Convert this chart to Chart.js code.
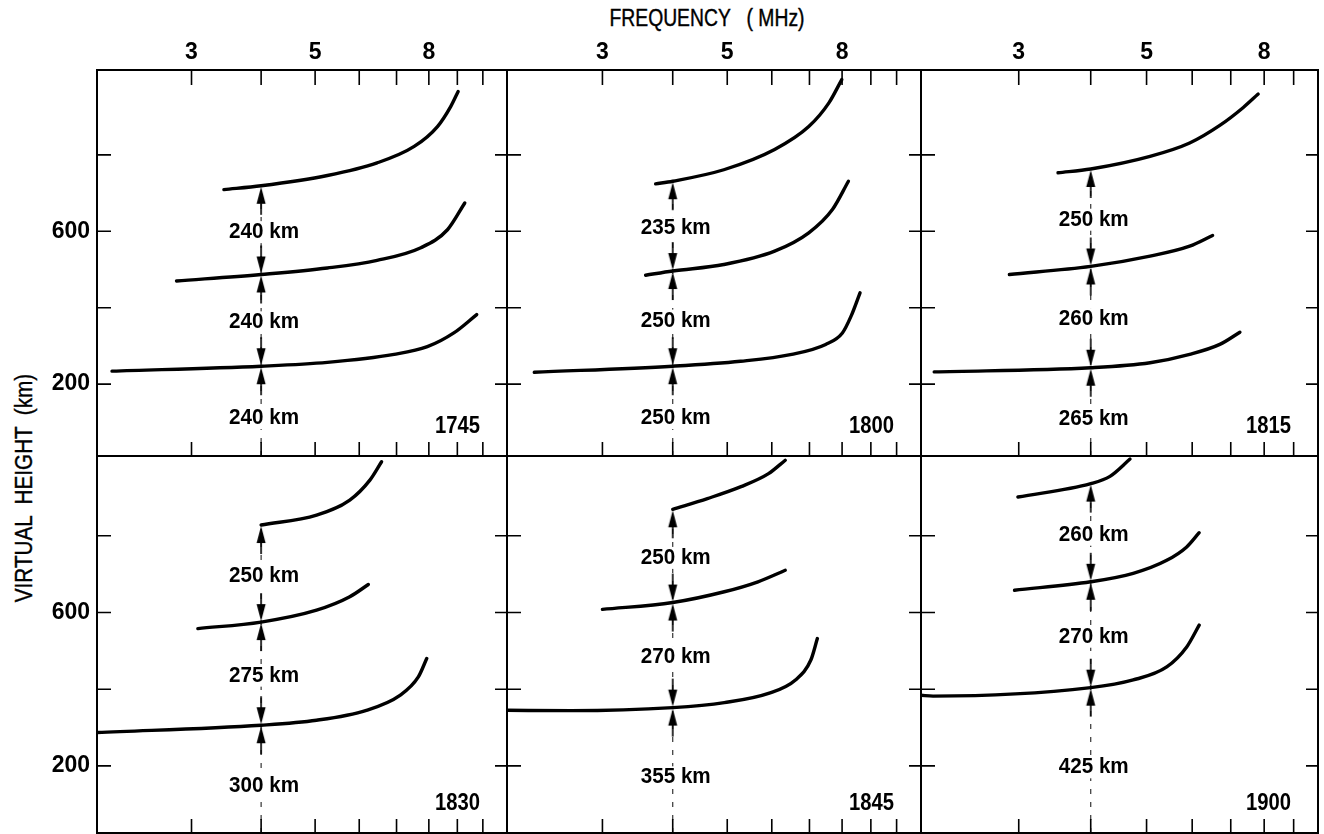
<!DOCTYPE html>
<html>
<head>
<meta charset="utf-8">
<script src="https://cdn.jsdelivr.net/npm/chart.js@4.4.1/dist/chart.umd.min.js"></script>
<style>
    html, body { margin: 0; padding: 0; background: #fff; }
    #figura { position: relative; width: 1324px; height: 834px; overflow: hidden; }
    #figura canvas { position: absolute; left: 0; top: 0; }
    .titulo {
        position: absolute;
        font-family: 'Liberation Sans', Arial, sans-serif;
        font-size: 23px;
        color: #000;
        white-space: pre;
        -webkit-text-stroke: 0.4px #000;
    }
    #tituloX { left: 707px; top: 18px; transform: translate(-50%, -50%) scaleX(0.84); }
    #tituloY { left: 24px; top: 488px; transform: translate(-50%, -50%) rotate(-90deg) scaleX(0.9); }
</style>
</head>
<body>
<div id="figura">
    <div class="titulo" id="tituloX">FREQUENCY   ( MHz)</div>
    <div class="titulo" id="tituloY">VIRTUAL  HEIGHT  (km)</div>
</div>

<script>
const tempos = ['1745', '1800', '1815', '1830', '1845', '1900'];
const freqTicks = [3, 4, 5, 6, 7, 8, 9, 10];
const freqRotulos = [3, 5, 8];
const alturaTicks = [200, 400, 600, 800];
const alturaRotulos = [200, 600];
const freqSondagem = 4;

// traços [MHz, km], de baixo para cima
const baixo1745 = [[2.16, 234], [4, 247], [5.26, 257], [6.93, 278], [7.95, 298], [8.87, 334], [9.75, 382]];
const meio1745  = [[2.82, 470], [4, 487], [5.26, 504], [6.46, 524], [7.74, 557], [8.64, 604], [9.28, 674]];
const alto1745  = [[3.43, 709], [4, 719], [5.26, 746], [6.46, 779], [7.53, 822], [8.29, 874], [8.76, 927], [9.03, 966]];
const distancias1745 = ['240 km', '240 km', '240 km'];

const baixo1800 = [[2.27, 231], [4, 247], [5.28, 260], [6.51, 278], [7.48, 304], [8.01, 334], [8.30, 378], [8.61, 439]];
const meio1800  = [[3.58, 485], [4, 496], [4.93, 513], [6.07, 548], [6.98, 596], [7.69, 657], [8.21, 731]];
const alto1800  = [[3.73, 724], [4, 731], [4.93, 761], [6.07, 814], [6.98, 874], [7.58, 936], [7.99, 997]];
const distancias1800 = ['250 km', '250 km', '235 km'];

const baixo1815 = [[2.14, 232], [4, 243], [5.07, 256], [5.94, 278], [6.70, 304], [7.26, 336]];
const meio1815  = [[2.89, 487], [4, 508], [5.07, 535], [5.94, 561], [6.51, 589]];
const alto1815  = [[3.51, 753], [4, 763], [5.07, 796], [5.94, 831], [6.70, 877], [7.36, 924], [7.81, 959]];
const distancias1815 = ['265 km', '260 km', '250 km'];

const baixo1830 = [[2.03, 287], [4, 306], [5.03, 319], [6.18, 345], [7.10, 384], [7.66, 432], [7.93, 480]];
const meio1830  = [[3.08, 558], [4, 575], [5.03, 606], [5.77, 641], [6.23, 673]];
const alto1830  = [[4, 828], [5.03, 854], [5.77, 893], [6.27, 945], [6.58, 993]];
const distancias1830 = ['300 km', '275 km', '250 km'];

const baixo1845 = [[2.03, 345], [2.64, 344], [4, 352], [4.94, 365], [5.92, 389], [6.61, 424], [7.04, 476], [7.23, 532]];
const meio1845  = [[3.0, 608], [4, 626], [4.94, 654], [5.67, 680], [6.34, 710]];
const alto1845  = [[4, 869], [4.61, 897], [5.29, 928], [5.92, 962], [6.34, 997]];
const distancias1845 = ['355 km', '270 km', '250 km'];

const baixo1900 = [[2.03, 384], [2.13, 382], [4, 404], [4.74, 424], [5.42, 458], [5.87, 510], [6.17, 567]];
const meio1900  = [[2.95, 658], [4, 680], [4.74, 702], [5.42, 736], [5.87, 771], [6.17, 808]];
const alto1900  = [[2.99, 901], [4, 936], [4.32, 955], [4.68, 1000]];
const distancias1900 = ['425 km', '270 km', '260 km'];

// --- geometria dos painéis ---
const colunasPx = [[97, 507], [507, 921], [921, 1318]];
const linhasPx = [[70, 456], [456, 833]];
const freqMin = 2.03;
const freqMax = [11.05, 11.05, 9.92];
const alturaMin = [12, 25];
const alturaMax = [1022, 1008];

const FONTE = "'Liberation Sans', Arial, sans-serif";
Chart.defaults.font.family = FONTE;
Chart.defaults.font.size = 23;
Chart.defaults.font.weight = 'bold';
Chart.defaults.color = '#000';

window.onload = function () {
    desenharFigura();
};

function criarSeta(paraCima) {
    const c = document.createElement('canvas');
    c.width = 14;
    c.height = 64;
    const ctx = c.getContext('2d');
    const meio = 32, cx = 7, s = paraCima ? 1 : -1;
    ctx.fillStyle = '#000';
    ctx.strokeStyle = '#000';
    ctx.beginPath();
    ctx.moveTo(cx, meio + s * 1);
    ctx.lineTo(cx - 4.5, meio + s * 18);
    ctx.lineTo(cx + 4.5, meio + s * 18);
    ctx.closePath();
    ctx.fill();
    ctx.lineWidth = 1.6;
    ctx.beginPath();
    ctx.moveTo(cx, meio + s * 18);
    ctx.lineTo(cx, meio + s * 29);
    ctx.stroke();
    return c;
}

function alturaEm(traco, f) {
    for (let i = 1; i < traco.length; i++) {
        const [f0, h0] = traco[i - 1];
        const [f1, h1] = traco[i];
        if (f >= f0 && f <= f1) {
            const t = (Math.log(f) - Math.log(f0)) / (Math.log(f1) - Math.log(f0));
            return h0 + t * (h1 - h0);
        }
    }
    return traco[0][1];
}

function pluginPainel(p, linha, cruzamentos) {
    return {
        id: 'painel' + p.tempo,
        afterDatasetsDraw(chart) {
            const ctx = chart.ctx;
            const a = chart.chartArea;
            const x = chart.scales.x;
            const y = chart.scales.y;
            ctx.save();

            // moldura e marcas internas
            ctx.strokeStyle = '#000';
            ctx.lineWidth = 2;
            ctx.strokeRect(a.left, a.top, a.right - a.left, a.bottom - a.top);
            ctx.lineWidth = 1.6;
            ctx.beginPath();
            freqTicks.forEach(f => {
                if (f <= x.min || f >= x.max) return;
                const px = x.getPixelForValue(f);
                ctx.moveTo(px, a.bottom);
                ctx.lineTo(px, a.bottom - 14);
                if (linha === 0) {
                    ctx.moveTo(px, a.top);
                    ctx.lineTo(px, a.top + 15);
                }
            });
            alturaTicks.forEach(h => {
                const py = y.getPixelForValue(h);
                ctx.moveTo(a.left, py);
                ctx.lineTo(a.left + 14, py);
                ctx.moveTo(a.right, py);
                ctx.lineTo(a.right - 12, py);
            });
            ctx.stroke();

            // distâncias entre ecos
            const px4 = x.getPixelForValue(freqSondagem) + 3;
            const pys = cruzamentos.map(c => y.getPixelForValue(c));
            const posY = [(pys[0] + a.bottom) / 2 + 7, (pys[0] + pys[1]) / 2 + 2, (pys[1] + pys[2]) / 2 + 2];
            ctx.font = 'bold 22px ' + FONTE;
            ctx.textAlign = 'center';
            ctx.textBaseline = 'middle';
            p.distancias.forEach((txt, i) => {
                const w = Math.min(ctx.measureText(txt).width, 70);
                ctx.fillStyle = '#fff';
                ctx.fillRect(px4 - w / 2 - 2, posY[i] - 11, w + 4, 22);
                ctx.fillStyle = '#000';
                ctx.fillText(txt, px4, posY[i], 70);
            });

            // hora da sondagem
            ctx.font = 'bold 23px ' + FONTE;
            ctx.textAlign = 'right';
            ctx.fillText(p.tempo, a.right - 27, a.bottom - 29, 45);

            ctx.restore();
        }
    };
}

function criarPainel(p, linha, coluna) {
    const canvas = document.createElement('canvas');
    canvas.width = 1324;
    canvas.height = 834;
    document.getElementById('figura').appendChild(canvas);

    const [x0, x1] = colunasPx[coluna];
    const [y0, y1] = linhasPx[linha];
    const cruzamentos = p.tracos.map(t => alturaEm(t, freqSondagem));
    const comEixoX = linha === 0;
    const comEixoY = coluna === 0;

    const datasets = p.tracos.map(t => ({
        data: t.map(([f, h]) => ({ x: f, y: h })),
        showLine: true,
        borderColor: '#000',
        borderWidth: 3.4,
        borderCapStyle: 'round',
        pointRadius: 0,
        cubicInterpolationMode: 'monotone',
        order: 1
    }));

    datasets.push({
        data: [
            { x: freqSondagem, y: alturaMin[linha] },
            { x: freqSondagem, y: cruzamentos[cruzamentos.length - 1] }
        ],
        showLine: true,
        borderColor: '#333',
        borderWidth: 1.2,
        borderDash: [5, 8],
        pointRadius: 0,
        order: 3
    });

    const setaCima = criarSeta(true);
    const setaBaixo = criarSeta(false);
    const pontosSeta = [];
    const estilos = [];
    cruzamentos.forEach((c, k) => {
        pontosSeta.push({ x: freqSondagem, y: c });
        estilos.push(setaCima);
        if (k < cruzamentos.length - 1) {
            pontosSeta.push({ x: freqSondagem, y: c });
            estilos.push(setaBaixo);
        }
    });
    datasets.push({
        data: pontosSeta,
        showLine: false,
        pointStyle: estilos,
        pointRadius: 3,
        order: 0
    });

    const larguraEixoY = 60;
    const alturaEixoX = 40;

    new Chart(canvas, {
        type: 'scatter',
        data: { datasets: datasets },
        options: {
            responsive: false,
            animation: false,
            events: [],
            layout: {
                autoPadding: false,
                padding: {
                    left: comEixoY ? x0 - larguraEixoY : x0,
                    top: comEixoX ? y0 - alturaEixoX : y0,
                    right: 1324 - x1,
                    bottom: 834 - y1
                }
            },
            plugins: {
                legend: { display: false },
                tooltip: { enabled: false }
            },
            scales: {
                x: {
                    type: 'logarithmic',
                    position: 'top',
                    display: comEixoX,
                    bounds: 'data',
                    min: freqMin,
                    max: freqMax[coluna],
                    afterBuildTicks: s => { s.ticks = freqRotulos.map(v => ({ value: v })); },
                    afterFit: s => {
                        if (comEixoX) s.height = alturaEixoX;
                        s.paddingLeft = 0;
                        s.paddingRight = 0;
                    },
                    ticks: { callback: v => String(v), padding: 4, maxRotation: 0, autoSkip: false },
                    grid: { display: false, drawTicks: false },
                    border: { display: false }
                },
                y: {
                    type: 'linear',
                    position: 'left',
                    display: comEixoY,
                    bounds: 'data',
                    min: alturaMin[linha],
                    max: alturaMax[linha],
                    afterBuildTicks: s => { s.ticks = alturaRotulos.map(v => ({ value: v })); },
                    afterFit: s => {
                        if (comEixoY) s.width = larguraEixoY;
                        s.paddingTop = 0;
                        s.paddingBottom = 0;
                    },
                    ticks: { callback: v => String(v), padding: 7, autoSkip: false },
                    grid: { display: false, drawTicks: false },
                    border: { display: false }
                }
            }
        },
        plugins: [pluginPainel(p, linha, cruzamentos)]
    });
}

function desenharFigura() {
    const paineis = [
        { tempo: tempos[0], tracos: [baixo1745, meio1745, alto1745], distancias: distancias1745 },
        { tempo: tempos[1], tracos: [baixo1800, meio1800, alto1800], distancias: distancias1800 },
        { tempo: tempos[2], tracos: [baixo1815, meio1815, alto1815], distancias: distancias1815 },
        { tempo: tempos[3], tracos: [baixo1830, meio1830, alto1830], distancias: distancias1830 },
        { tempo: tempos[4], tracos: [baixo1845, meio1845, alto1845], distancias: distancias1845 },
        { tempo: tempos[5], tracos: [baixo1900, meio1900, alto1900], distancias: distancias1900 }
    ];
    paineis.forEach((p, i) => criarPainel(p, Math.floor(i / 3), i % 3));
}
</script>
</body>
</html>
